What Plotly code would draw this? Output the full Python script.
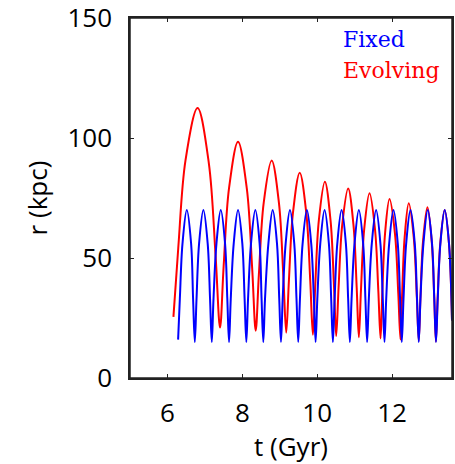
import plotly.graph_objects as go

# Orbital radius r (kpc) against cosmic time t (Gyr), fixed vs evolving potential
t_fixed = [6.285, 6.331, 6.402, 6.517, 6.632, 6.685, 6.731, 6.777, 6.845, 6.960, 7.075, 7.138,
           7.184, 7.230, 7.309, 7.424, 7.539, 7.599, 7.645, 7.691, 7.770, 7.885, 8.000, 8.061,
           8.107, 8.153, 8.232, 8.347, 8.462, 8.514, 8.560, 8.606, 8.696, 8.811, 8.926, 8.986,
           9.032, 9.078, 9.157, 9.272, 9.387, 9.447, 9.493, 9.539, 9.610, 9.725, 9.840, 9.911,
           9.957, 10.003, 10.082, 10.197, 10.312, 10.373, 10.419, 10.465, 10.536, 10.651, 10.766, 10.826,
           10.872, 10.918, 10.997, 11.112, 11.227, 11.287, 11.333, 11.379, 11.458, 11.573, 11.688, 11.751,
           11.797, 11.843, 11.922, 12.037, 12.152, 12.213, 12.259, 12.305, 12.376, 12.491, 12.606, 12.666,
           12.712, 12.758, 12.837, 12.952, 13.067, 13.127, 13.173, 13.219, 13.290, 13.405, 13.520, 13.600]
r_fixed = [16, 33, 56, 70, 56, 33,
           15, 33, 56, 70, 56, 33,
           15, 33, 56, 70, 56, 33,
           15, 33, 56, 70, 56, 33,
           15, 33, 56, 70, 56, 33,
           15, 33, 56, 70, 56, 33,
           15, 33, 56, 70, 56, 33,
           15, 33, 56, 70, 56, 33,
           15, 33, 56, 70, 56, 33,
           15, 33, 56, 70, 56, 33,
           15, 33, 56, 70, 56, 33,
           15, 33, 56, 70, 56, 33,
           15, 33, 56, 70, 56, 33,
           15, 33, 56, 70, 56, 33,
           15, 33, 56, 70, 56, 33,
           15, 33, 56, 70, 56, 24]

t_evolving = [6.160, 6.289, 6.483, 6.805, 7.105, 7.285, 7.405, 7.501, 7.645, 7.885, 8.121, 8.263,
              8.357, 8.442, 8.571, 8.784, 8.979, 9.095, 9.173, 9.245, 9.353, 9.533, 9.709, 9.815,
              9.885, 9.949, 10.045, 10.205, 10.356, 10.447, 10.507, 10.571, 10.667, 10.827, 10.970, 11.055,
              11.112, 11.169, 11.255, 11.397, 11.544, 11.632, 11.691, 11.739, 11.811, 11.931, 12.078, 12.165,
              12.224, 12.268, 12.335, 12.445, 12.579, 12.659, 12.712, 12.758, 12.828, 12.944, 13.057, 13.125,
              13.170, 13.217, 13.288, 13.405, 13.520, 13.600]
r_evolving = [25.5, 54.2, 90.8, 112.5, 89.6, 51.2,
              21.0, 46.6, 79.1, 98.5, 78.8, 45.7,
              19.7, 43.1, 73.0, 90.7, 72.8, 42.6,
              18.9, 40.9, 68.9, 85.6, 68.7, 40.3,
              18.0, 39.1, 65.9, 81.8, 65.7, 38.7,
              17.5, 37.8, 63.6, 79.0, 63.5, 37.5,
              17.0, 36.8, 62.0, 77.0, 61.9, 36.5,
              16.5, 35.7, 60.1, 74.6, 60.0, 35.3,
              16.0, 34.7, 58.6, 72.8, 58.5, 34.4,
              15.5, 33.9, 57.3, 71.2, 57.2, 33.7,
              15.2, 33.3, 56.3, 70.0, 56.0, 24.0]

x_ticks = [6, 8, 10, 12]
y_ticks = [0, 50, 100, 150]
series_names = ["Fixed", "Evolving"]
series_colors = ["#0000ff", "#ff0000"]

fig = go.Figure()
# evolving drawn first so the fixed-potential orbit sits on top
fig.add_trace(go.Scatter(x=t_evolving, y=r_evolving, mode="lines", name=series_names[1],
                         line=dict(color=series_colors[1], width=2, shape="spline", smoothing=1),
                         showlegend=False, cliponaxis=True))
fig.add_trace(go.Scatter(x=t_fixed, y=r_fixed, mode="lines", name=series_names[0],
                         line=dict(color=series_colors[0], width=2, shape="spline", smoothing=1),
                         showlegend=False, cliponaxis=True))

axis_font = dict(family="Open Sans", size=26, color="#000000")
common = dict(showgrid=False, zeroline=False, showline=True, linecolor="#222222", linewidth=1.5,
              mirror="allticks", ticks="inside", ticklen=4, tickwidth=1.2, tickcolor="#222222",
              tickfont=axis_font, automargin=False)

fig.update_xaxes(range=[5, 13.6], tickvals=x_ticks, ticklabelstandoff=11,
                 title=dict(text="t (Gyr)", font=axis_font, standoff=10), **common)
fig.update_yaxes(range=[0, 150.05], tickvals=y_ticks, ticktext=[f"{v}" for v in y_ticks],
                 ticklabelstandoff=11, ticklabeloverflow="allow",
                 title=dict(text="r (kpc)", font=axis_font, standoff=12), **common)

# frame around the plotting area
fig.add_shape(type="rect", xref="paper", yref="paper", x0=0, y0=0, x1=1, y1=1,
              line=dict(color="#222222", width=1.5), layer="above")

legend_font = "DejaVu Serif"
fig.add_annotation(text=series_names[0], xref="paper", yref="paper", x=0.655, y=0.94,
                   xanchor="left", yanchor="middle", showarrow=False,
                   font=dict(family=legend_font, size=22, color=series_colors[0]))
fig.add_annotation(text=series_names[1], xref="paper", yref="paper", x=0.655, y=0.853,
                   xanchor="left", yanchor="middle", showarrow=False,
                   font=dict(family=legend_font, size=22, color=series_colors[1]))

fig.update_layout(width=455, height=464, margin=dict(l=130, r=3, t=18, b=86),
                  paper_bgcolor="white", plot_bgcolor="white")

fig.write_html("out.html")
